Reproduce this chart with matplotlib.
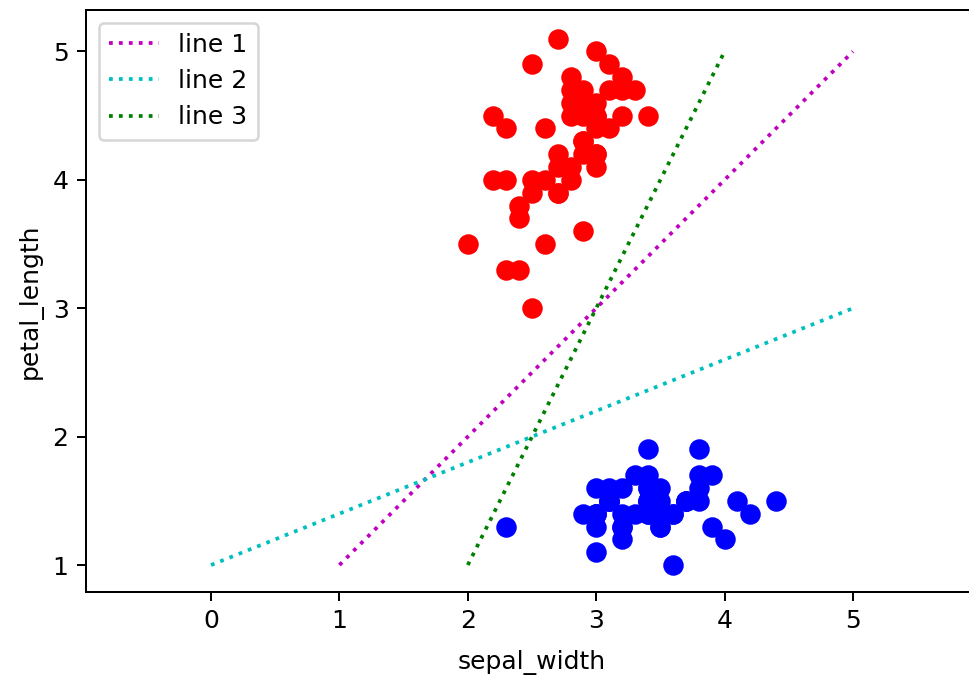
import matplotlib.pyplot as plt

# iris: setosa (blue) and versicolor (red), sepal_width vs petal_length
setosa_sw = [3.5, 3.0, 3.2, 3.1, 3.6, 3.9, 3.4, 3.4, 2.9, 3.1,
             3.7, 3.4, 3.0, 3.0, 4.0, 4.4, 3.9, 3.5, 3.8, 3.8,
             3.4, 3.7, 3.6, 3.3, 3.4, 3.0, 3.4, 3.5, 3.4, 3.2,
             3.1, 3.4, 4.1, 4.2, 3.1, 3.2, 3.5, 3.6, 3.0, 3.4,
             3.5, 2.3, 3.2, 3.5, 3.8, 3.0, 3.8, 3.2, 3.7, 3.3]
setosa_pl = [1.4, 1.4, 1.3, 1.5, 1.4, 1.7, 1.4, 1.5, 1.4, 1.5,
             1.5, 1.6, 1.4, 1.1, 1.2, 1.5, 1.3, 1.4, 1.7, 1.5,
             1.7, 1.5, 1.0, 1.7, 1.9, 1.6, 1.6, 1.5, 1.4, 1.6,
             1.6, 1.5, 1.5, 1.4, 1.5, 1.2, 1.3, 1.4, 1.3, 1.5,
             1.3, 1.3, 1.3, 1.6, 1.9, 1.4, 1.6, 1.4, 1.5, 1.4]

versi_sw = [3.2, 3.2, 3.1, 2.3, 2.8, 2.8, 3.3, 2.4, 2.9, 2.7,
            2.0, 3.0, 2.2, 2.9, 2.9, 3.1, 3.0, 2.7, 2.2, 2.5,
            3.2, 2.8, 2.5, 2.8, 2.9, 3.0, 2.8, 3.0, 2.9, 2.6,
            2.4, 2.4, 2.7, 2.7, 3.0, 3.4, 3.1, 2.3, 3.0, 2.5,
            2.6, 3.0, 2.6, 2.3, 2.7, 3.0, 2.9, 2.9, 2.5, 2.8]
versi_pl = [4.7, 4.5, 4.9, 4.0, 4.6, 4.5, 4.7, 3.3, 4.6, 3.9,
            3.5, 4.2, 4.0, 4.7, 3.6, 4.4, 4.5, 4.1, 4.5, 3.9,
            4.8, 4.0, 4.9, 4.7, 4.3, 4.4, 4.8, 5.0, 4.5, 3.5,
            3.8, 3.7, 3.9, 5.1, 4.5, 4.5, 4.7, 4.4, 4.1, 4.0,
            4.4, 4.6, 4.0, 3.3, 4.2, 4.2, 4.2, 4.3, 3.0, 4.1]

# candidate separating lines (start/end points)
line_x = [[1, 5], [0, 5], [2, 4]]
line_y = [[1, 5], [1, 3], [1, 5]]
line_names = ['line 1', 'line 2', 'line 3']
line_colors = ['m', 'c', 'g']

x_ticks = [0, 1, 2, 3, 4, 5]
y_ticks = [1, 2, 3, 4, 5]

dpi = 180
W, H = 969, 682
fig = plt.figure(figsize=(W / dpi, H / dpi), dpi=dpi)
# the right edge of the axes is cut off in the reference, so let it run past the canvas
left_px, right_px, top_px, bot_px = 86, 1010, 10, 592
ax = fig.add_axes([left_px / W, (H - bot_px) / H,
                   (right_px - left_px) / W, (bot_px - top_px) / H])

ax.plot(setosa_sw, setosa_pl, 'bo', markersize=7.2)
ax.plot(versi_sw, versi_pl, 'ro', markersize=7.2)

for xs, ys, name, c in zip(line_x, line_y, line_names, line_colors):
    ax.plot(xs, ys, ':', color=c, label=name)

# equal scaling, same window as the reference (0 at px 211, 128.4 px per unit)
ppu = 128.4
ax.set_xlim((left_px - 211) / ppu, (right_px - 211) / ppu)
ax.set_ylim(0.79, 0.79 + (bot_px - top_px) / ppu)
ax.set_xticks(x_ticks)
ax.set_yticks(y_ticks)
ax.set_xlabel('sepal_width')
ax.xaxis.set_label_coords((532 - left_px) / (right_px - left_px), -0.1)
ax.set_ylabel('petal_length')
ax.legend(loc='upper left')

fig.savefig('out.png', dpi=dpi)
